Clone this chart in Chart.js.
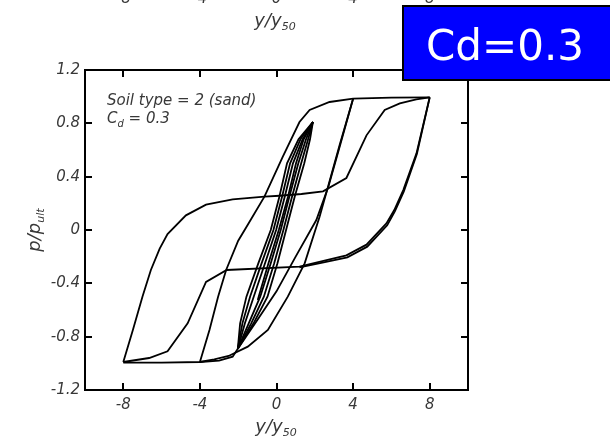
<!DOCTYPE html>
<html>
<head>
<meta charset="utf-8">
<script src="https://cdn.jsdelivr.net/npm/chart.js@4.4.1/dist/chart.umd.min.js"></script>
<style>
  html, body { margin: 0; padding: 0; background: #fff; }
  canvas { display: block; }
</style>
</head>
<body>
<canvas id="myChart" width="610" height="439"></canvas>
<script>
// tick positions
var xTicks = [-8, -4, 0, 4, 8];
var yTicks = [-1.2, -0.8, -0.4, 0, 0.4, 0.8, 1.2];

// big +/-8 loop
var load8 = [[-8, -0.99], [-7.5, -0.75], [-7.0, -0.5], [-6.56, -0.3], [-6.1, -0.14], [-5.69, -0.03],
  [-4.73, 0.11], [-3.68, 0.19], [-2.29, 0.23], [-0.63, 0.25], [0.16, 0.257], [1.3, 0.27],
  [2.43, 0.29], [3.65, 0.39], [4.7, 0.71], [5.65, 0.9], [6.44, 0.95], [7.3, 0.98], [8, 0.995]];
var unload8 = [[8, 0.995], [7.31, 0.575], [6.62, 0.3], [6.15, 0.15], [5.74, 0.05], [4.7, -0.11],
  [3.65, -0.19], [1.2, -0.275], [-2.6, -0.3], [-3.68, -0.39], [-4.64, -0.7], [-5.69, -0.91],
  [-6.65, -0.96], [-8, -0.99]];
var unload8b = [[8, 0.995], [7.33, 0.57], [6.65, 0.29], [6.18, 0.14], [5.78, 0.035], [4.74, -0.125],
  [3.7, -0.205], [2.4, -0.245], [1.2, -0.28]];

// +/-4 loop
var load4 = [[-4, -0.99], [-3.5, -0.75], [-3.05, -0.5], [-2.63, -0.3], [-2.0, -0.08], [-1.5, 0.04],
  [-0.63, 0.25], [0.33, 0.55], [1.2, 0.81], [1.73, 0.9], [2.77, 0.96], [4, 0.985], [6, 0.993], [8, 0.995]];
var unload4 = [[4, 0.985], [3.3, 0.64], [2.69, 0.325], [2.25, 0.1], [1.47, -0.25], [0.59, -0.5],
  [-0.45, -0.75], [-1.5, -0.875], [-2.5, -0.945], [-3.25, -0.97], [-4, -0.99]];
var reload4 = [[-2.02, -0.89], [-1.0, -0.675], [0, -0.46], [1.0, -0.2], [2.08, 0.075], [2.72, 0.33],
  [3.35, 0.65], [4, 0.985]];
var baseFlat = [[-2.02, -0.89], [-2.29, -0.95], [-3, -0.98], [-4, -0.99], [-6, -0.995], [-8, -0.995]];

// +/-2 cycles
var cyc1Up = [[-2.02, -0.89], [-1.2, -0.7], [-0.47, -0.5], [0.05, -0.25], [0.5, 0], [0.95, 0.25], [1.45, 0.5], [1.75, 0.68], [1.9, 0.81]];
var cyc1Down = [[1.9, 0.81], [1.15, 0.68], [0.55, 0.5], [0.15, 0.25], [-0.3, 0], [-0.95, -0.25], [-1.57, -0.5], [-1.9, -0.7], [-2.02, -0.89]];
var cyc2Up = [[-2.02, -0.89], [-1.32, -0.7], [-0.66, -0.5], [-0.12, -0.25], [0.36, 0], [0.81, 0.25], [1.29, 0.5], [1.65, 0.68], [1.9, 0.81]];
var cyc2Down = [[1.9, 0.81], [1.25, 0.68], [0.71, 0.5], [0.29, 0.25], [-0.16, 0], [-0.78, -0.25], [-1.38, -0.5], [-1.78, -0.7], [-2.02, -0.89]];
var cyc3Up = [[-2.02, -0.89], [-1.45, -0.7], [-0.85, -0.5], [-0.3, -0.25], [0.22, 0], [0.67, 0.25], [1.14, 0.5], [1.54, 0.68], [1.9, 0.81]];
var cyc3Down = [[1.9, 0.81], [1.36, 0.68], [0.86, 0.5], [0.43, 0.25], [-0.02, 0], [-0.6, -0.25], [-1.19, -0.5], [-1.65, -0.7], [-2.02, -0.89]];
var lastDown = [[1.9, 0.81], [1.42, 0.68], [1.02, 0.5], [0.6, 0.25], [0.12, 0], [-0.42, -0.25], [-0.98, -0.525]];

var paths = [load8, unload8, unload8b, load4, unload4, reload4, baseFlat,
  cyc1Up, cyc1Down, cyc2Up, cyc2Down, cyc3Up, cyc3Down, lastDown];

var tickFont = { family: 'DejaVu Sans', style: 'italic', size: 15 };
var textColor = '#383838';

function subText(ctx, x, y, main, sub, size, subSize, subDrop) {
  ctx.font = 'italic ' + size + 'px "DejaVu Sans"';
  ctx.fillText(main, x, y);
  var w = ctx.measureText(main).width;
  ctx.font = 'italic ' + subSize + 'px "DejaVu Sans"';
  ctx.fillText(sub, x + w, y + subDrop);
  return w + ctx.measureText(sub).width;
}

function subWidth(ctx, main, sub, size, subSize) {
  ctx.font = 'italic ' + size + 'px "DejaVu Sans"';
  var w = ctx.measureText(main).width;
  ctx.font = 'italic ' + subSize + 'px "DejaVu Sans"';
  return w + ctx.measureText(sub).width;
}

var frameAndText = {
  id: 'frameAndText',
  beforeDraw: function (chart) {
    var ctx = chart.ctx;
    ctx.save();
    ctx.fillStyle = '#fff';
    ctx.fillRect(0, 0, chart.width, chart.height);
    ctx.restore();
  },
  afterDatasetsDraw: function (chart) {
    var ctx = chart.ctx, a = chart.chartArea;
    var xs = chart.scales.x, ys = chart.scales.y;
    ctx.save();
    ctx.strokeStyle = '#000';
    ctx.lineWidth = 2;
    ctx.strokeRect(a.left, a.top, a.right - a.left, a.bottom - a.top);
    ctx.beginPath();
    xTicks.forEach(function (v) {
      var px = Math.round(xs.getPixelForValue(v));
      ctx.moveTo(px, a.bottom); ctx.lineTo(px, a.bottom - 7);
      ctx.moveTo(px, a.top); ctx.lineTo(px, a.top + 7);
    });
    yTicks.forEach(function (v) {
      var py = Math.round(ys.getPixelForValue(v));
      ctx.moveTo(a.left, py); ctx.lineTo(a.left + 7, py);
      ctx.moveTo(a.right, py); ctx.lineTo(a.right - 7, py);
    });
    ctx.stroke();
    ctx.restore();
  },
  afterDraw: function (chart) {
    var ctx = chart.ctx, xs = chart.scales.x;
    ctx.save();
    ctx.fillStyle = textColor;
    ctx.textBaseline = 'alphabetic';

    // labels of the chart above, cut off by the top edge
    ctx.font = 'italic 15px "DejaVu Sans"';
    ctx.textAlign = 'center';
    xTicks.forEach(function (v) {
      ctx.fillText(String(v), xs.getPixelForValue(v), 3);
    });
    ctx.textAlign = 'left';
    var tw = subWidth(ctx, 'y/y', '50', 18, 11);
    subText(ctx, 275 - tw / 2, 26, 'y/y', '50', 18, 11, 4);

    // annotation
    ctx.font = 'italic 15px "DejaVu Sans"';
    ctx.fillText('Soil type = 2 (sand)', 107, 105);
    var w = subText(ctx, 107, 123, 'C', 'd', 15, 10, 4);
    ctx.font = 'italic 15px "DejaVu Sans"';
    ctx.fillText(' = 0.3', 107 + w, 123);

    // x title
    tw = subWidth(ctx, 'y/y', '50', 18, 11);
    subText(ctx, 276 - tw / 2, 432, 'y/y', '50', 18, 11, 4);

    // y title
    ctx.save();
    ctx.translate(40, 230);
    ctx.rotate(-Math.PI / 2);
    tw = subWidth(ctx, 'p/p', 'ult', 18, 11);
    subText(ctx, -tw / 2, 0, 'p/p', 'ult', 18, 11, 4);
    ctx.restore();

    // blue label box
    ctx.fillStyle = '#0000ff';
    ctx.fillRect(403, 6, 212, 74);
    ctx.strokeStyle = '#000';
    ctx.lineWidth = 2;
    ctx.strokeRect(403, 6, 212, 74);
    ctx.fillStyle = '#fff';
    ctx.font = '42px "DejaVu Sans"';
    ctx.textAlign = 'center';
    ctx.fillText('Cd=0.3', 505, 60);
    ctx.restore();
  }
};

var datasets = paths.map(function (p) {
  return {
    data: p.map(function (pt) { return { x: pt[0], y: pt[1] }; }),
    showLine: true,
    borderColor: '#000',
    borderWidth: 1.8,
    pointRadius: 0,
    fill: false,
    tension: 0
  };
});

var hysChart = new Chart('myChart', {
  type: 'scatter',
  data: { datasets: datasets },
  options: {
    responsive: false,
    animation: false,
    devicePixelRatio: 1,
    layout: { padding: { top: 70, right: 142, left: 0, bottom: 0 } },
    plugins: { legend: { display: false }, tooltip: { enabled: false } },
    scales: {
      x: {
        type: 'linear',
        min: -10,
        max: 10,
        afterBuildTicks: function (scale) {
          scale.ticks = xTicks.map(function (v) { return { value: v }; });
        },
        afterFit: function (scale) { scale.height = 49; },
        grid: { display: false, drawTicks: false },
        border: { display: false },
        ticks: { font: tickFont, color: textColor, padding: 6, maxRotation: 0 }
      },
      y: {
        type: 'linear',
        min: -1.2,
        max: 1.2,
        afterBuildTicks: function (scale) {
          scale.ticks = yTicks.map(function (v) { return { value: v }; });
        },
        afterFit: function (scale) { scale.width = 85; },
        grid: { display: false, drawTicks: false },
        border: { display: false },
        ticks: {
          font: tickFont,
          color: textColor,
          padding: 5,
          callback: function (v) { return v === 0 ? '0' : Number(v).toFixed(1); }
        }
      }
    }
  },
  plugins: [frameAndText]
});
</script>
</body>
</html>
